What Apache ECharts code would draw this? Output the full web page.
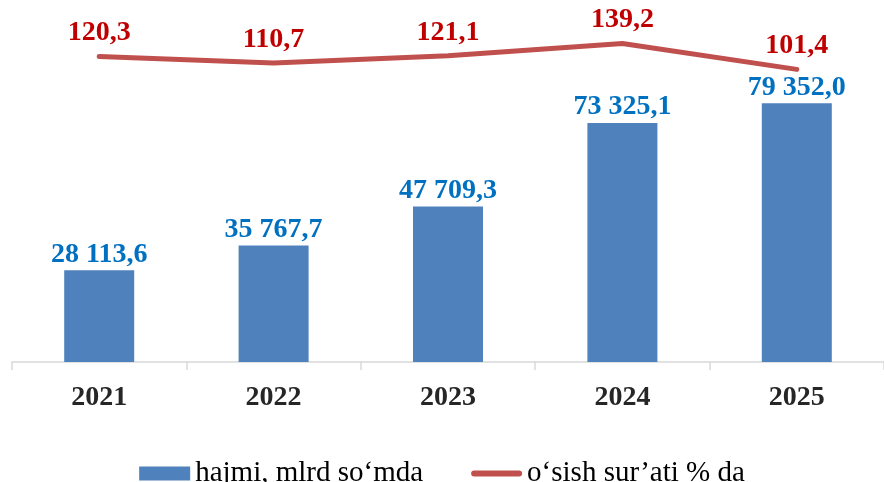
<!DOCTYPE html>
<html>
<head>
<meta charset="utf-8">
<script src="https://cdn.jsdelivr.net/npm/echarts@6/dist/echarts.min.js"></script>
<style>
  html, body { margin: 0; padding: 0; background: #fff; }
  #chart { width: 884px; height: 482px; }
</style>
</head>
<body>
<div id="chart"></div>
<script>
// yillar
const years = ['2021', '2022', '2023', '2024', '2025'];
// hajmi, mlrd so'mda
const volume = [28113.6, 35767.7, 47709.3, 73325.1, 79352.0];
// o'sish sur'ati % da
const growth = [120.3, 110.7, 121.1, 139.2, 101.4];

const serif = '"Liberation Serif", "Times New Roman", serif';

// 28113.6 -> "28 113,6"
function fmt(v) {
  const parts = v.toFixed(1).split('.');
  return parts[0].replace(/\B(?=(\d{3})+(?!\d))/g, ' ') + ',' + parts[1];
}

const chart = echarts.init(document.getElementById('chart'));
chart.setOption({
  animation: false,
  textStyle: { fontFamily: serif },
  grid: { left: 12, right: -10, top: 36, bottom: 120, containLabel: false },
  legend: {
    top: 454,
    left: 'center',
    itemGap: 48,
    itemWidth: 51,
    itemHeight: 14,
    textStyle: { fontFamily: serif, fontSize: 29, color: '#000' },
    data: [
      { name: 'hajmi, mlrd so‘mda', icon: 'rect' },
      { name: 'o‘sish sur’ati % da', icon: 'path://M3,0 H47 A3,3 0 0 1 47,6 H3 A3,3 0 0 1 3,0 Z' }
    ]
  },
  xAxis: {
    type: 'category',
    data: years,
    axisLine: { lineStyle: { color: '#D9D9D9', width: 1.5 } },
    axisTick: { show: true, length: 8, lineStyle: { color: '#D9D9D9', width: 1.5 } },
    axisLabel: { margin: 22, fontSize: 28, fontWeight: 'bold', color: '#262626', fontFamily: serif }
  },
  yAxis: [
    { type: 'value', min: 0, max: 100000, show: false, splitLine: { show: false } },
    { type: 'value', min: -325, max: 150, show: false, splitLine: { show: false } }
  ],
  series: [
    {
      name: 'hajmi, mlrd so‘mda',
      type: 'bar',
      data: volume,
      barWidth: 70,
      itemStyle: { color: '#4F81BD' },
      label: {
        show: true,
        position: 'top',
        distance: 2,
        formatter: p => fmt(p.value),
        fontSize: 28,
        fontWeight: 'bold',
        color: '#0070C0',
        fontFamily: serif
      }
    },
    {
      name: 'o‘sish sur’ati % da',
      type: 'line',
      yAxisIndex: 1,
      data: growth,
      symbol: 'circle',
      symbolSize: 1,
      showSymbol: true,
      lineStyle: { color: '#C0504D', width: 5, cap: 'round', join: 'round' },
      itemStyle: { color: '#C0504D' },
      label: {
        show: true,
        position: 'top',
        distance: 9,
        formatter: p => p.value.toFixed(1).replace('.', ','),
        fontSize: 28,
        fontWeight: 'bold',
        color: '#C00000',
        fontFamily: serif
      }
    }
  ]
});
</script>
</body>
</html>
